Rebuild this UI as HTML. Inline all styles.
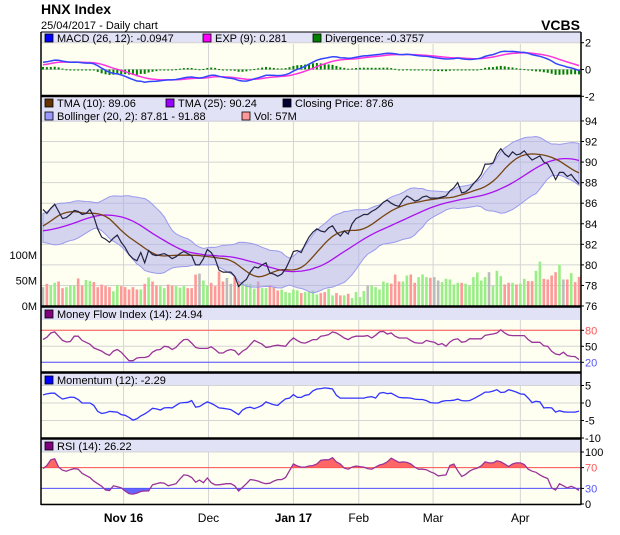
<!DOCTYPE html>
<html><head><meta charset="utf-8"><style>
html,body{margin:0;padding:0;background:#fff;width:620px;height:535px;overflow:hidden}
svg{display:block;font-family:"Liberation Sans",sans-serif}
</style></head><body>
<svg id="chart" width="620" height="535" viewBox="0 0 620 535" xmlns="http://www.w3.org/2000/svg">
<text x="41" y="14" font-size="14" font-weight="bold" fill="#000">HNX Index</text>
<text x="41" y="29" font-size="11" fill="#000">25/04/2017 - Daily chart</text>
<text x="580" y="30" font-size="14" font-weight="bold" text-anchor="end" fill="#000">VCBS</text>
<g id="g"></g>
</svg>
<script>
const priorCloses=[82.0,81.8,82.3,82.6,82.4,82.9,83.2,83.0,83.5,83.3,83.6,83.9,83.5,83.2,83.4,83.0,82.8,83.1,83.4,83.0,82.9,83.0,83.2,83.4,83.3,83.6,83.9,84.2,84.6,85.0];
const closes=[85.4,85.0,85.5,85.9,85.2,84.5,84.6,84.9,85.3,85.2,84.9,85.0,85.4,84.7,83.5,82.7,82.5,82.2,82.6,82.9,82.2,81.7,81.0,80.6,80.4,81.2,80.2,81.4,81.0,80.9,81.0,81.1,80.9,80.6,80.8,81.1,81.3,81.1,80.9,80.0,80.0,80.6,81.5,81.2,80.6,79.5,79.3,79.3,79.3,78.9,77.9,78.3,78.6,79.3,79.8,79.7,80.0,80.2,79.2,79.1,78.9,79.1,79.6,80.4,81.3,81.4,81.2,82.0,82.7,83.2,83.5,83.3,83.2,83.6,83.8,83.2,82.8,83.3,83.0,84.0,84.5,84.7,84.9,84.9,85.2,85.4,85.7,86.1,86.3,86.0,85.8,85.7,86.3,86.7,86.5,86.2,86.3,86.6,86.7,86.5,86.5,86.5,86.6,86.7,87.2,87.5,88.0,87.0,87.1,87.4,87.9,88.3,88.8,89.8,89.8,89.9,90.8,91.3,90.8,90.5,91.0,90.7,90.8,91.1,90.6,90.2,90.4,90.6,90.0,89.8,89.1,88.3,89.0,89.0,88.6,88.8,88.3,87.9];
const volumes=[37,43.5,40,45.5,48,35,37,40,40,54,40,51,49,47,37,42,39,37,29,41,39,37,32.5,37,32.5,32.5,43.5,56,48,40,39,35,42,40,39,36,39,35,35,61.5,63.5,50,40,45.5,39,68,48,55,43.5,58,48,47,43.5,43.5,34,48,35,35,41.5,37,30.5,32,27.5,26,32,30.5,25.4,27.3,27.3,30.5,22.8,25.4,27.3,33.8,20.8,25.4,20.8,20.8,24,15.6,27.3,17.6,29.3,40,40,37,32.5,48,45.5,43.9,61.8,48,48,59.8,61.8,45.5,56.6,61.8,56.6,55.3,56.6,50,46.8,53.3,52,42.3,45.5,45.5,43.9,39.7,56.6,65.7,50,56.6,66.3,39.7,69,58.5,42.3,45.5,45.5,42.3,43.9,53.3,48.8,48.8,69,87,53.3,52,59.8,66.3,81.3,52,52,64.4,46.8,57];
const mfiValues=[62.5,67,75,77,69,61,58,59,69,69,61,57.5,54,47,44,41,36,33,41,44,39,31,23,23,28,29,29,31,39,43,44,50,49,44,48,56,62.5,63,56,48,46,46,46,49,44,37.5,37.5,42,44,42,34,41,45,53,61,57.5,54,48,49,51,52,51,50,59,65.6,60.6,57,56,59,62.5,62.5,69,70,72,77,75,70.6,65.6,62.5,67,69,69,69,70,65.6,70.6,77,78,73,75,69,65.6,65.6,65.6,60.6,57,56,56,61,59,57.5,53,55,50,58,62.5,64,57.5,59,64,64,64,64,70.6,72,73,75,81,75,71,70,70,70,70,62.5,57.5,57.5,57.5,51,50,40.6,35.6,34,39,32.5,31,30.6,25];
const momentumValues=[2.3,2.6,2.8,2.8,1.9,1.1,1.4,1.7,1.6,1.0,0,0,0,-0.7,-2.4,-3.0,-2.8,-2.4,-2.5,-2.6,-3.3,-3.5,-4.1,-4.9,-4.5,-3.7,-3.1,-2.4,-1.5,-1.7,-2.0,-1.4,-1.3,-1.4,-0.7,0,0.1,0.2,0.7,-1.2,-1.0,-0.3,0.3,-0.1,-0.7,-1.4,-1.5,-1.7,-1.9,-2.6,-3.3,-2.0,-1.4,-1.2,-1.6,-1.2,-0.7,0.3,-0.1,-0.5,-0.7,0.3,1.2,1.4,2.4,1.6,1.6,2.2,2.4,3.5,4.0,4.1,4.3,4.2,4.0,2.2,1.4,1.4,1.4,1.4,1.4,1.4,1.4,1.7,1.8,1.4,2.8,3.0,2.7,2.8,2.2,1.6,1.5,1.5,1.4,1.1,1.0,1.0,0.7,0.1,0,0,0.5,0.7,0.7,0.8,1.1,0.7,0.6,0.7,1.2,1.8,2.4,3.1,3.1,3.4,3.8,3.0,3.1,3.8,3.5,3.1,2.6,2.5,1.4,0.1,0.5,0.3,-1.4,-1.3,-1.4,-2.6,-2.2,-2.5,-2.6,-2.6,-2.6,-2.3];
const rsiValues=[68,74,85,87,71,65,63,66,68,67,59,55,51,44,39,34,27,26,35,33,31,25,20,19,21,24,25,25,37,39,41,40,35,37,39,48,56,55,51,42,46,41,50,41,37,37,38,39,39,35,25,32,39,47,46,44,41,39,40,44,47,47,51,64,77,73,71,71,73,74,77,84,85,85,89,81,77,69,67,71,73,72,71,68,67,71,75,77,81,88,84,80,81,80,77,71,67,67,66,62,59,54,55,56,74,77,64,53,57,63,67,69,73,81,79,79,83,81,77,72,77,79,79,76,67,63,61,56,52,49,31,27,39,35,31,34,31,26];
const priceTicks=[94,92,90,88,86,84,82,80,78,76];
const volumeTicks=[100,50,0];
const macdTicks=[2,0,-2];
const mfiTicks=[80,50,20];
const momentumTicks=[5,0,-5,-10];
const rsiTicks=[100,70,30,0];
const monthLabels=["Nov 16","Dec","Jan 17","Feb","Mar","Apr"];
const monthIndex=[20.6,42.3,64.0,80.7,99.7,122.0];
const monthBold=[true,false,true,false,false,false];

const NS="http://www.w3.org/2000/svg";
const G=document.getElementById('g');
function mk(tag,attrs,parent){const e=document.createElementNS(NS,tag);for(const k in attrs)e.setAttribute(k,attrs[k]);(parent||G).appendChild(e);return e;}
const L=41,R=581,N=closes.length,step=(R-L)/N;
const xi=i=>L+(i+0.5)*step;
const yP=v=>306-(v-76)*10.28;
const yV=m=>306-m*0.51;
const yM=v=>69.5-v*13.4;
const yF=v=>362.3-(v-20)*32/60;
const yMo=v=>403-v*3.5;
const yR=v=>504-v*0.52;
const ptsStr=(arr,fy)=>arr.map((v,i)=>xi(i).toFixed(1)+','+fy(v).toFixed(1)).join(' ');

// derived indicators (computed over history + visible window)
const full=priorCloses.concat(closes);
const P=priorCloses.length;
function sma(a,n){return a.map((v,i)=>{const s=Math.max(0,i-n+1);const w=a.slice(s,i+1);return w.reduce((p,c)=>p+c,0)/w.length;});}
function tma(a,n){const n1=Math.ceil((n+1)/2);return sma(sma(a,n1),n1);}
function ema(a,n){const k=2/(n+1);let r=[];a.forEach((v,i)=>r.push(i?r[i-1]+k*(v-r[i-1]):v));return r;}
const tma10=tma(full,10).slice(P),tma25=tma(full,25).slice(P);
const bbUp=[],bbLo=[];
full.forEach((v,i)=>{if(i<P)return;const w=full.slice(i-19,i+1);const m=w.reduce((p,c)=>p+c,0)/w.length;const sd=Math.sqrt(w.reduce((p,c)=>p+(c-m)*(c-m),0)/w.length);bbUp.push(m+2*sd);bbLo.push(m-2*sd);});
const e12=ema(full,12),e26=ema(full,26);
const macdFull=e12.map((v,i)=>v-e26[i]);
const sigFull=ema(macdFull,9);
const macd=macdFull.slice(P),sig=sigFull.slice(P);
const div=macd.map((v,i)=>v-sig[i]);

function panel(name,top,legendH,bottom){
  const b=mk('rect',{x:L,y:top,width:R-L,height:bottom-top,fill:'#fefff0'});
  
  
  const lb=mk('rect',{x:L,y:top,width:R-L,height:legendH,fill:'#e2e2f6'});
  
  
}
panel('macd',32,11,95);
panel('price',97,25,306);
panel('mfi',307,13,372);
panel('momentum',373,13,438);
panel('rsi',439,13,504);

function hgrid(name,vals,fy,labColors){
  vals.forEach((v,k)=>{
    const y=fy(v);
    const gl=mk('line',{x1:L,x2:R,y1:y,y2:y,stroke:'#d4d4d4','stroke-width':1});
    
    
    mk('line',{x1:R,x2:R+3,y1:y,y2:y,stroke:'#000'});
    const t=mk('text',{x:R+4,y:y+4,'font-size':11,fill:labColors?labColors[k]:'#000'});
    t.textContent=v;
    
    
  });
}
monthIndex.forEach((m,k)=>{
  const x=xi(m);
  [[44,95],[122,306],[320,372],[386,438],[452,504]].forEach(r=>{
    const vl=mk('line',{x1:x,x2:x,y1:r[0],y2:r[1],stroke:'#d4d4d4'});
    
    
  });
  const t=mk('text',{x:x,y:522,'font-size':12,'text-anchor':'middle','font-weight':monthBold[k]?'bold':'normal',fill:'#000'});
  t.textContent=monthLabels[k];
  
  
});
hgrid('macd',macdTicks,yM);
hgrid('price',priceTicks,yP);
hgrid('mfi',mfiTicks,yF,['#ff5555','#000','#5555ff']);
hgrid('momentum',momentumTicks,yMo);
hgrid('rsi',rsiTicks,yR,['#000','#ff5555','#5555ff','#000']);
volumeTicks.forEach(v=>{
  const t=mk('text',{x:37,y:yV(v)+4,'font-size':11,'text-anchor':'end',fill:'#000'});
  t.textContent=v+'M';
  
  
});

// MACD
div.forEach((d,i)=>{
  const y0=yM(0),y1=yM(d);
  const r=mk('rect',{x:xi(i)-1,y:Math.min(y0,y1),width:2,height:Math.max(1,Math.abs(y1-y0)),fill:'#008000'});
  
  
});
const ms=mk('polyline',{points:ptsStr(sig,yM),fill:'none',stroke:'#ff33dd','stroke-width':1.5});


const ml=mk('polyline',{points:ptsStr(macd,yM),fill:'none',stroke:'#3344ff','stroke-width':1.5});



// Volume
volumes.forEach((v,i)=>{
  const d=i?closes[i]-closes[i-1]:0;
  const c=d>0?'#99ee88':(d<0?'#ff9999':'#bbbbbb');
  const r=mk('rect',{x:xi(i)-1.3,y:yV(v),width:2.6,height:306-yV(v),fill:c});
  
  
});
const bbPts=bbUp.map((v,i)=>xi(i)+','+yP(v)).concat(bbLo.map((v,i)=>xi(i)+','+yP(v)).reverse()).join(' ');
const bb=mk('polygon',{points:bbPts,fill:'rgba(170,170,235,0.5)',stroke:'#9999ee','stroke-width':1});


const t25=mk('polyline',{points:ptsStr(tma25,yP),fill:'none',stroke:'#aa11ee','stroke-width':1.3});


const t10=mk('polyline',{points:ptsStr(tma10,yP),fill:'none',stroke:'#774411','stroke-width':1.3});


const cl=mk('polyline',{points:ptsStr(closes,yP),fill:'none',stroke:'#222244','stroke-width':1.2});



// MFI
[[80,'#ff5555'],[20,'#5555ff']].forEach(a=>{
  const l=mk('line',{x1:L,x2:R,y1:yF(a[0]),y2:yF(a[0]),stroke:a[1]});
  
  
});
const mf=mk('polyline',{points:ptsStr(mfiValues,yF),fill:'none',stroke:'#993399','stroke-width':1.3});


const mo=mk('polyline',{points:ptsStr(momentumValues,yMo),fill:'none',stroke:'#3333ff','stroke-width':1.3});


// RSI
const defs=mk('defs',{});
const c1=mk('clipPath',{id:'above70'},defs);mk('rect',{x:L,y:440,width:R-L,height:yR(70)-440},c1);
const c2=mk('clipPath',{id:'below30'},defs);mk('rect',{x:L,y:yR(30),width:R-L,height:504-yR(30)},c2);
const rp=ptsStr(rsiValues,yR);
const fa=mk('polygon',{points:rp+' '+xi(N-1)+','+yR(70)+' '+xi(0)+','+yR(70),fill:'#ff6666','clip-path':'url(#above70)'});


const fb=mk('polygon',{points:rp+' '+xi(N-1)+','+yR(30)+' '+xi(0)+','+yR(30),fill:'#6666ff','clip-path':'url(#below30)'});


[[70,'#ff5555'],[30,'#5555ff']].forEach(a=>{
  const l=mk('line',{x1:L,x2:R,y1:yR(a[0]),y2:yR(a[0]),stroke:a[1]});
  
  
});
const rl=mk('polyline',{points:rp,fill:'none',stroke:'#993399','stroke-width':1.3});



function leg(x,y,color,text,name){
  const s=mk('rect',{x:x,y:y-8,width:8,height:8,fill:color,stroke:'#000','stroke-width':0.8});
  
  
  const t=mk('text',{x:x+12,y:y,'font-size':11,fill:'#000'});
  t.textContent=text;
  
  
}
leg(45,42,'#0000ff','MACD (26, 12): -0.0947','macd');
leg(203,42,'#ff00ff','EXP (9): 0.281','exp');
leg(313,42,'#008000','Divergence: -0.3757','divergence');
leg(45,107,'#663300','TMA (10): 89.06','tma10');
leg(166,107,'#9900ff','TMA (25): 90.24','tma25');
leg(283,107,'#000033','Closing Price: 87.86','closing-price');
leg(45,120,'#9999ff','Bollinger (20, 2): 87.81 - 91.88','bollinger');
leg(242,120,'#ff9999','Vol: 57M','volume');
leg(45,318,'#800080','Money Flow Index (14): 24.94','mfi');
leg(45,384,'#0000ff','Momentum (12): -2.29','momentum');
leg(45,450,'#800080','RSI (14): 26.22','rsi');

mk('line',{x1:L,x2:L,y1:32,y2:505,stroke:'#000','stroke-width':1.5});
mk('line',{x1:R,x2:R,y1:32,y2:505,stroke:'#000','stroke-width':1.5});
mk('line',{x1:L,x2:R,y1:32,y2:32,stroke:'#000','stroke-width':1});
[96,306.5,372.5,438.5].forEach(y=>mk('line',{x1:L,x2:R,y1:y,y2:y,stroke:'#000','stroke-width':2.5}));
mk('line',{x1:L,x2:R,y1:504.5,y2:504.5,stroke:'#000','stroke-width':1.5});
</script>
</body></html>
